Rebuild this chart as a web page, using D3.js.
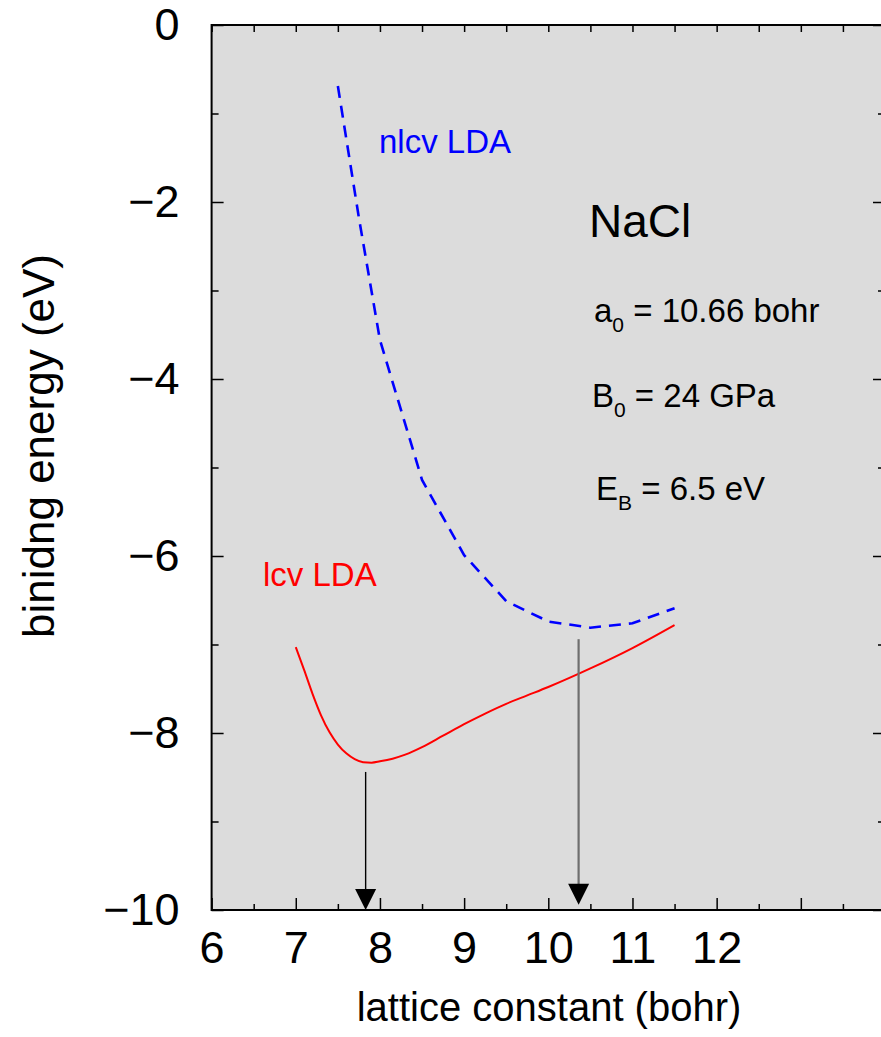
<!DOCTYPE html>
<html>
<head>
<meta charset="utf-8">
<script src="https://cdn.jsdelivr.net/npm/d3@7"></script>
<style>
body { margin: 0; background: #fff; }
svg { display: block; }
text { font-family: "Liberation Sans", Arial, Helvetica, sans-serif; }
</style>
</head>
<body>
<div id="canvas"></div>
<script>
// DATA ========================================================================

var LCV_X = [7.0, 7.1, 7.2, 7.3, 7.4, 7.5, 7.6, 7.7, 7.8, 7.9, 8.0, 8.15, 8.3, 8.5, 8.75, 9.0, 9.25, 9.5, 9.75, 10.0, 10.5, 11.0, 11.5]
var LCV_E = [-7.03, -7.29, -7.56, -7.80, -7.99, -8.13, -8.23, -8.295, -8.33, -8.335, -8.32, -8.29, -8.245, -8.16, -8.03, -7.90, -7.78, -7.67, -7.575, -7.48, -7.27, -7.04, -6.78]

var NLCV_X = [7.5, 7.75, 8.0, 8.5, 9.0, 9.5, 10.0, 10.5, 11.0, 11.5]
var NLCV_E = [-0.69, -2.18, -3.56, -5.14, -5.99, -6.51, -6.74, -6.81, -6.76, -6.59]

var X_TICKS = [6, 7, 8, 9, 10, 11, 12]
var Y_TICKS = [0, -2, -4, -6, -8, -10]

var ARROW_X = [7.83, 10.36]
var ARROW_TOP = [-8.44, -6.94]
var ARROW_TIP = [-10.0, -9.94]

// SETTINGS ====================================================================

var WIDTH = 881
var HEIGHT = 1037
var MARGIN = { left: 211.6, top: 25, right: -4, bottom: 127 }
var TICK_FONT = 45

function translate(x, y) {
    return "translate(" + x + "," + y + ")"
}

// CHART =======================================================================

var svg = d3.select("#canvas").append("svg")
    .attr("width", WIDTH)
    .attr("height", HEIGHT)

var W = WIDTH - MARGIN.left - MARGIN.right
var H = HEIGHT - MARGIN.top - MARGIN.bottom
var G = svg.append("g").attr("transform", translate(MARGIN.left, MARGIN.top))

var x = d3.scaleLinear().domain([6, 14]).range([0, W])
var y = d3.scaleLinear().domain([-10, 0]).range([H, 0])

// Plot background.
G.append("rect")
    .attr("width", W)
    .attr("height", H)
    .attr("fill", "#dcdcdc")

// Curves.
var lcv = LCV_X.map((v, i) => [v, LCV_E[i]])
var nlcv = NLCV_X.map((v, i) => [v, NLCV_E[i]])

G.append("path")
    .datum(lcv)
    .attr("fill", "none")
    .attr("stroke", "#ff0000")
    .attr("stroke-width", 2)
    .attr("d", d3.line().x(d => x(d[0])).y(d => y(d[1])).curve(d3.curveMonotoneX))

G.append("path")
    .datum(nlcv)
    .attr("fill", "none")
    .attr("stroke", "#0000ff")
    .attr("stroke-width", 2.6)
    .attr("stroke-dasharray", "12,8")
    .attr("d", d3.line().x(d => x(d[0])).y(d => y(d[1])))

// Arrows down to the axis.
var HEAD_W = 21
var HEAD_H = 21
var arrows = ARROW_X.map((v, i) => ({ x: v, top: ARROW_TOP[i], tip: ARROW_TIP[i], i: i }))

G.selectAll(".arrow-line")
    .data(arrows).enter()
    .append("line")
        .attr("x1", d => x(d.x))
        .attr("x2", d => x(d.x))
        .attr("y1", d => y(d.top))
        .attr("y2", d => y(d.tip) - HEAD_H + 1)
        .attr("stroke", d => d.i == 0 ? "#000" : "#6e6e6e")
        .attr("stroke-width", d => d.i == 0 ? 1.4 : 2.2)

G.selectAll(".arrow-head")
    .data(arrows).enter()
    .append("path")
        .attr("fill", "#000")
        .attr("d", function(d) {
            let cx = x(d.x), ty = y(d.tip)
            return "M" + (cx - HEAD_W/2) + "," + (ty - HEAD_H) + "L" + (cx + HEAD_W/2) + "," + (ty - HEAD_H) + "L" + cx + "," + ty + "Z"
        })

// Axes: ticks point inward on all four sides.
function ticks(axis, g, len, values, labels, padding) {
    let a = axis.tickValues(values).tickSizeInner(-len).tickSizeOuter(0)
    if (labels) { a.tickPadding(padding) } else { a.tickFormat("") }
    g.call(a)
    g.select(".domain").remove()
    g.selectAll("line").attr("stroke", "#000").attr("stroke-width", 1.5)
    g.selectAll("text").attr("font-size", TICK_FONT).attr("fill", "#000").attr("font-family", null)
}

var halves = d3.range(6, 14.01, 0.5)
var bottomMinor = halves.filter(v => v % 1 != 0)
var bottomMajor = d3.range(6, 14.01, 1)

ticks(d3.axisBottom(x), G.append("g").attr("transform", translate(0, H)), 6, bottomMinor, false)
ticks(d3.axisBottom(x), G.append("g").attr("transform", translate(0, H)), 12, bottomMajor.filter(v => X_TICKS.indexOf(v) < 0), false)
ticks(d3.axisBottom(x), G.append("g").attr("transform", translate(0, H)), 12, X_TICKS, true, 21)
ticks(d3.axisTop(x), G.append("g"), 7, halves, false)

var oddY = [-1, -3, -5, -7, -9]
ticks(d3.axisLeft(y), G.append("g"), 7, oddY, false)
ticks(d3.axisLeft(y), G.append("g"), 12, Y_TICKS, true, 32)
ticks(d3.axisRight(y), G.append("g").attr("transform", translate(W, 0)), 7, oddY, false)
ticks(d3.axisRight(y), G.append("g").attr("transform", translate(W, 0)), 12, Y_TICKS, false)

// Frame.
G.append("rect")
    .attr("width", W)
    .attr("height", H)
    .attr("fill", "none")
    .attr("stroke", "#000")
    .attr("stroke-width", 2)

// Axis titles.
svg.append("text")
    .attr("x", 549)
    .attr("y", 1021)
    .attr("text-anchor", "middle")
    .attr("font-size", 40)
    .text("lattice constant (bohr)")

svg.append("text")
    .attr("transform", translate(54, 446) + " rotate(-90)")
    .attr("text-anchor", "middle")
    .attr("font-size", 44)
    .text("binidng energy (eV)")

// Curve labels.
svg.append("text")
    .attr("x", 379).attr("y", 153)
    .attr("font-size", 33)
    .attr("fill", "#0000ff")
    .text("nlcv LDA")

svg.append("text")
    .attr("x", 263).attr("y", 586)
    .attr("font-size", 33)
    .attr("fill", "#ff0000")
    .text("lcv LDA")

// Material annotation.
svg.append("text")
    .attr("x", 589).attr("y", 237)
    .attr("font-size", 46)
    .text("NaCl")

function subscripted(px, py, base, sub, rest) {
    let t = svg.append("text")
        .attr("x", px).attr("y", py)
        .attr("font-size", 33)
    t.append("tspan").text(base)
    t.append("tspan").attr("dy", 10).attr("font-size", 21).text(sub)
    t.append("tspan").attr("dy", -10).text(" " + rest)
}

subscripted(594, 322, "a", "0", "= 10.66 bohr")
subscripted(592, 407, "B", "0", "= 24 GPa")
subscripted(596, 500, "E", "B", "= 6.5 eV")
</script>
</body>
</html>
